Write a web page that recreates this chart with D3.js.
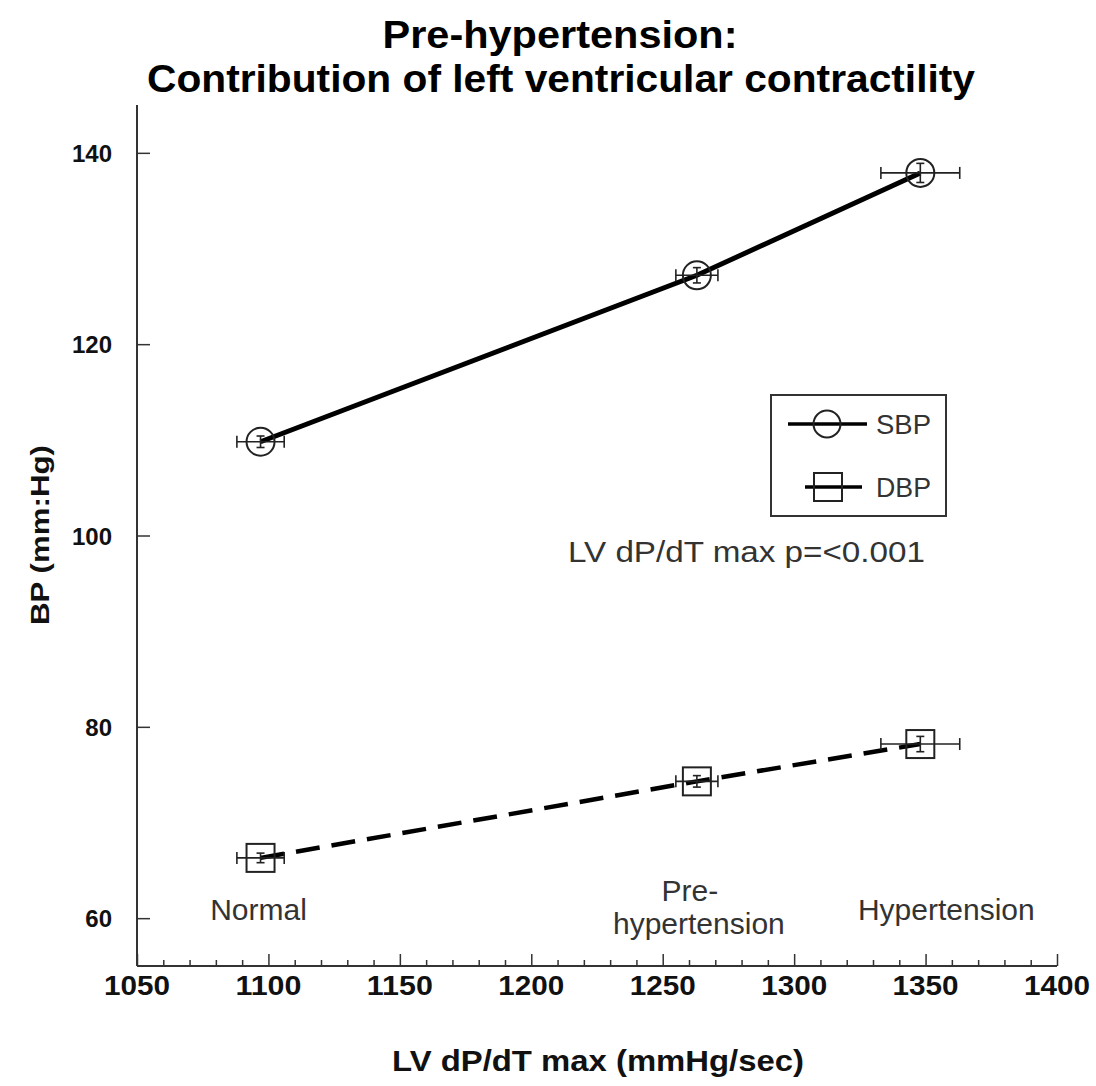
<!DOCTYPE html>
<html>
<head>
<meta charset="utf-8">
<script src="https://cdn.jsdelivr.net/npm/d3@7"></script>
<style>
  html, body { margin: 0; padding: 0; background: #fff; }
  svg { display: block; font-family: "Liberation Sans", Arial, sans-serif; }
</style>
</head>
<body>
<svg id="chart" width="1096" height="1086"></svg>
<script>
// Group means of LV dP/dt max and blood pressure
const categories = ["Normal", "Pre-hypertension", "Hypertension"];
const lvdpdt = [1097, 1263, 1348];
const lvdpdtErr = [9, 8, 15];
const sbp = [109.8, 127.2, 137.9];
const sbpErr = [0.6, 0.8, 1.0];
const dbp = [66.3, 74.3, 78.2];
const dbpErr = [0.5, 0.6, 0.8];
const xTicks = [1050, 1100, 1150, 1200, 1250, 1300, 1350, 1400];
const yTicks = [60, 80, 100, 120, 140];
const seriesNames = ["SBP", "DBP"];

const svg = d3.select("#chart");
const x = d3.scaleLinear().domain([1050, 1400]).range([137, 1057]);
const y = d3.scaleLinear().domain([55, 145]).range([966, 105]);

// Text helper; an optional width fixes the rendered length
function label(g, xp, yp, str, size, width, opts = {}) {
  const t = g.append("text").attr("x", xp).attr("y", yp).attr("font-size", size)
    .attr("text-anchor", opts.anchor || "start").attr("fill", opts.fill || "#111")
    .attr("font-weight", opts.bold ? "bold" : "normal").text(str);
  if (width) t.attr("textLength", width).attr("lengthAdjust", "spacingAndGlyphs");
  return t;
}

// Title
label(svg, 560, 48, "Pre-hypertension:", 39, 355, { anchor: "middle", bold: true, fill: "#000" });
label(svg, 561, 92, "Contribution of left ventricular contractility", 39, 828, { anchor: "middle", bold: true, fill: "#000" });

// Axes
const axisColor = "#333";
const xAxis = svg.append("g").attr("transform", `translate(0,${y.range()[0]})`);
xAxis.call(d3.axisBottom(x).tickValues(d3.range(1050, 1401, 10)).tickSize(-6).tickFormat(""));
xAxis.selectAll(".tick line").filter(d => d % 50 === 0).attr("y2", -12);
xAxis.select(".domain").attr("stroke-width", 2).attr("d", `M${x.range()[0]},0H${x.range()[1]}`);
xAxis.selectAll(".tick line").attr("stroke", axisColor).attr("stroke-width", 1.5);
xAxis.select(".domain").attr("stroke", axisColor);
xAxis.selectAll(".tick text").remove();
xTicks.forEach(v => label(xAxis, x(v), 29, String(v), 28, 66, { anchor: "middle", bold: true }));

const yAxis = svg.append("g").attr("transform", `translate(${x.range()[0]},0)`);
yAxis.call(d3.axisRight(y).tickValues(yTicks).tickSize(13).tickFormat(""));
yAxis.select(".domain").attr("stroke-width", 2).attr("stroke", axisColor)
  .attr("d", `M0,${y(145)}V${y(55)}`);
yAxis.selectAll(".tick line").attr("stroke", axisColor).attr("stroke-width", 1.5);
yTicks.forEach(v => label(yAxis, -25, y(v) + 9, String(v), 24, null, { anchor: "end", bold: true }));

// Axis titles
label(svg, 598, 1071, "LV dP/dT max (mmHg/sec)", 29, 412, { anchor: "middle", bold: true });
label(svg.append("g").attr("transform", "translate(49,535) rotate(-90)"), 0, 0, "BP (mm:Hg)", 25, 180, { anchor: "middle", bold: true });

// Series lines
const rows = categories.map((c, i) => ({ c, x: lvdpdt[i], xe: lvdpdtErr[i], s: sbp[i], se: sbpErr[i], d: dbp[i], de: dbpErr[i] }));
const line = key => d3.line().x(d => x(d.x)).y(d => y(d[key]));

svg.append("path").datum(rows).attr("d", line("s")).attr("fill", "none")
  .attr("stroke", "#000").attr("stroke-width", 5);
svg.append("path").datum(rows).attr("d", line("d")).attr("fill", "none")
  .attr("stroke", "#000").attr("stroke-width", 4.5).attr("stroke-dasharray", "24,12");

// Error bars and markers
function errorBars(key, errKey) {
  const g = svg.append("g").attr("stroke", "#222").attr("stroke-width", 1.6).attr("fill", "none");
  rows.forEach(r => {
    const cx = x(r.x), cy = y(r[key]);
    const x0 = x(r.x - r.xe), x1 = x(r.x + r.xe);
    g.append("line").attr("x1", x0).attr("x2", x1).attr("y1", cy).attr("y2", cy);
    g.append("line").attr("x1", x0).attr("x2", x0).attr("y1", cy - 6).attr("y2", cy + 6);
    g.append("line").attr("x1", x1).attr("x2", x1).attr("y1", cy - 6).attr("y2", cy + 6);
    const y0 = y(r[key] - r[errKey]), y1 = y(r[key] + r[errKey]);
    g.append("line").attr("x1", cx).attr("x2", cx).attr("y1", y0).attr("y2", y1);
    g.append("line").attr("x1", cx - 4).attr("x2", cx + 4).attr("y1", y0).attr("y2", y0);
    g.append("line").attr("x1", cx - 4).attr("x2", cx + 4).attr("y1", y1).attr("y2", y1);
  });
}
errorBars("s", "se");
errorBars("d", "de");

svg.append("g").selectAll("circle").data(rows).join("circle")
  .attr("cx", d => x(d.x)).attr("cy", d => y(d.s)).attr("r", 14)
  .attr("fill", "none").attr("stroke", "#222").attr("stroke-width", 2);
svg.append("g").selectAll("rect").data(rows).join("rect")
  .attr("x", d => x(d.x) - 14).attr("y", d => y(d.d) - 14).attr("width", 28).attr("height", 28)
  .attr("fill", "none").attr("stroke", "#222").attr("stroke-width", 2);

// Group labels
const labelColor = "#333";
const cat = svg.append("g");
label(cat, x(lvdpdt[0]) - 2, 920, "Normal", 30, null, { anchor: "middle", fill: labelColor });
label(cat, x(lvdpdt[1]) - 7, 901, "Pre-", 30, null, { anchor: "middle", fill: labelColor });
label(cat, x(lvdpdt[1]) + 2, 934, "hypertension", 30, null, { anchor: "middle", fill: labelColor });
label(cat, x(lvdpdt[2]) + 26, 920, "Hypertension", 30, null, { anchor: "middle", fill: labelColor });

// Statistical note
label(svg, 568, 562, "LV dP/dT max p=<0.001", 29, 357, { fill: labelColor });

// Legend
const legend = svg.append("g");
legend.append("rect").attr("x", 771).attr("y", 395).attr("width", 175).attr("height", 121)
  .attr("fill", "#fff").attr("stroke", "#333").attr("stroke-width", 2);
legend.append("line").attr("x1", 788).attr("x2", 867).attr("y1", 424).attr("y2", 424)
  .attr("stroke", "#000").attr("stroke-width", 3.5);
legend.append("circle").attr("cx", 827).attr("cy", 424).attr("r", 13.5)
  .attr("fill", "none").attr("stroke", "#222").attr("stroke-width", 2);
legend.append("line").attr("x1", 805).attr("x2", 862).attr("y1", 487).attr("y2", 487)
  .attr("stroke", "#000").attr("stroke-width", 3.5);
legend.append("rect").attr("x", 814).attr("y", 473).attr("width", 28).attr("height", 28)
  .attr("fill", "none").attr("stroke", "#222").attr("stroke-width", 2);
seriesNames.forEach((n, i) => label(legend, 876, 434 + i * 63, n, 27, 55, { fill: labelColor }));
</script>
</body>
</html>
